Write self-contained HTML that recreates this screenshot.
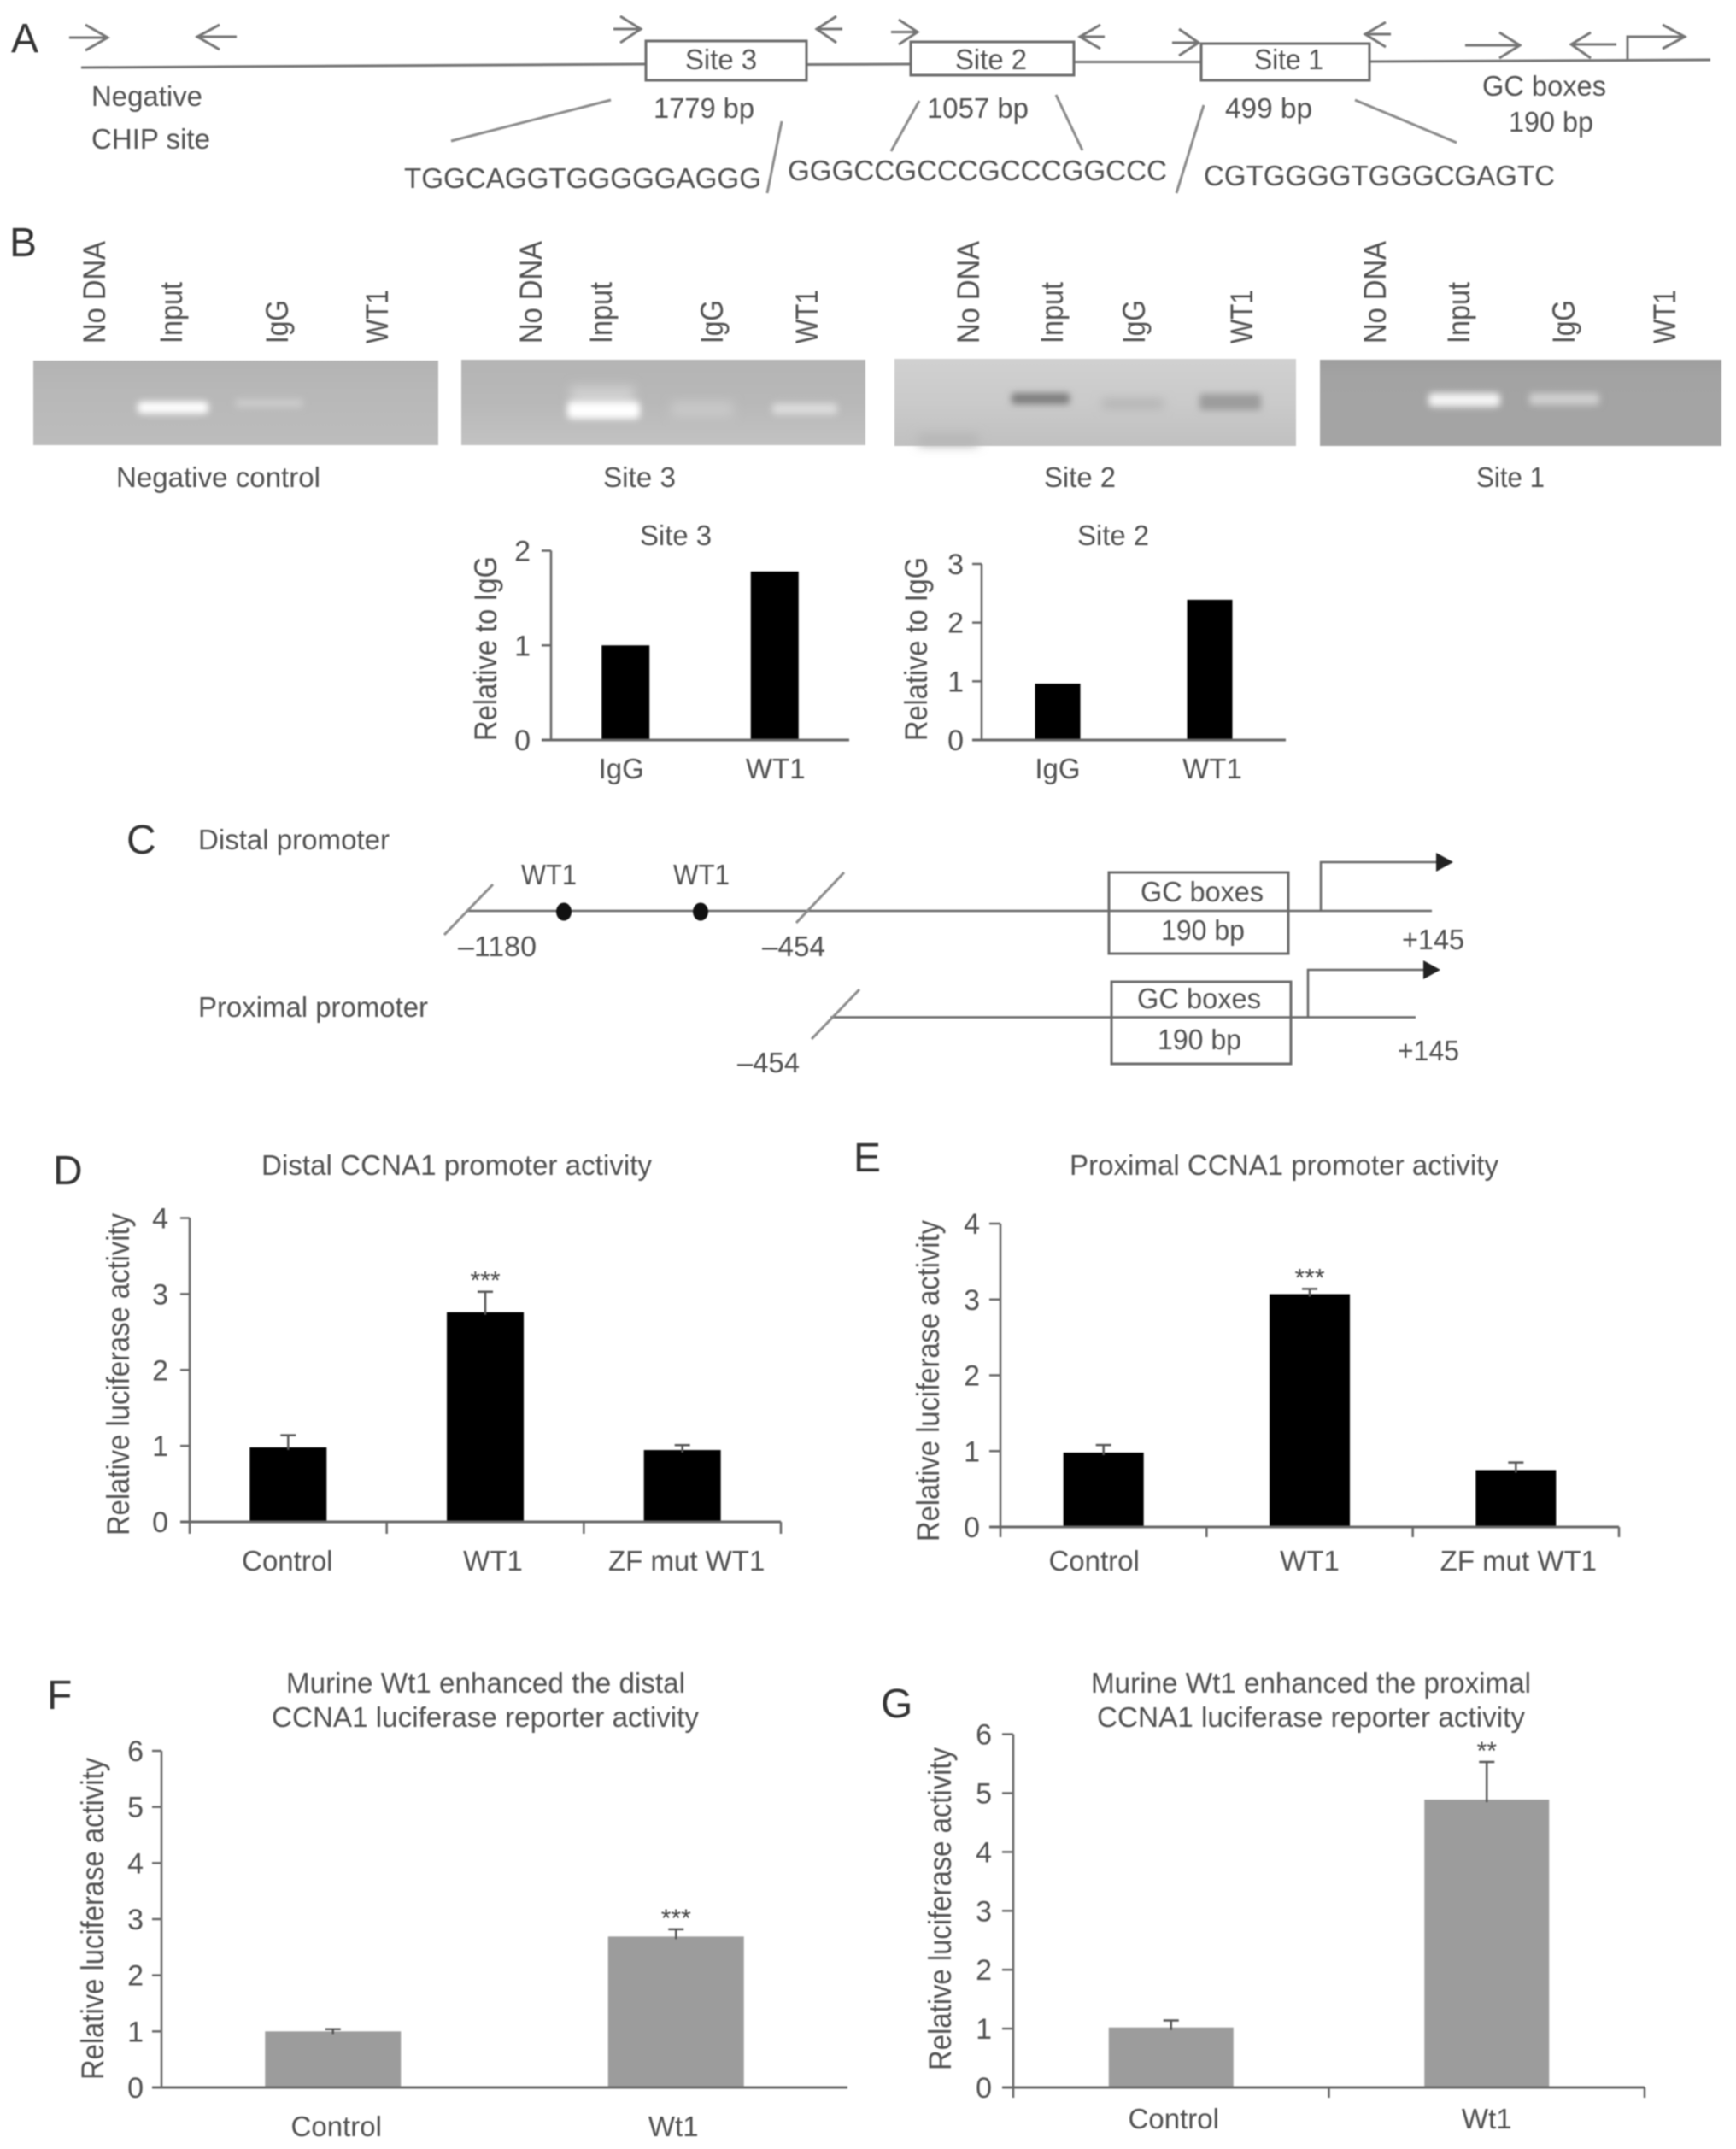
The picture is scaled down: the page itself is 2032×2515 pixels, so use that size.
<!DOCTYPE html>
<html lang="en">
<head>
<meta charset="utf-8">
<title>WT1 CCNA1 promoter figure</title>
<style>
html,body{margin:0;padding:0;background:#fff;}
#figure{display:block;width:2032px;height:2515px;filter:blur(0.7px);}
text{font-family:"Liberation Sans",sans-serif;font-size:33px;fill:#505050;}
text.rot{font-size:37px;}
.panel{font-size:48px;fill:#333;}
.ln{stroke:#747474;stroke-width:3;fill:none;}
.thin{stroke:#666;stroke-width:2.5;fill:none;}
.slash{stroke:#8a8a8a;stroke-width:3;fill:none;}
.box{stroke:#6a6a6a;stroke-width:3;fill:#fff;}
.boxo{stroke:#6a6a6a;stroke-width:3;fill:none;}
</style>
</head>
<body>
<svg id="figure" xmlns="http://www.w3.org/2000/svg" width="2032" height="2515" viewBox="0 0 2032 2515">
<defs>
<filter id="b6" x="-40%" y="-100%" width="180%" height="300%"><feGaussianBlur stdDeviation="6"/></filter>
<filter id="b4" x="-40%" y="-100%" width="180%" height="300%"><feGaussianBlur stdDeviation="4"/></filter>
<linearGradient id="gelNeg" x1="0" y1="0" x2="0" y2="1"><stop offset="0" stop-color="#b3b3b3"/><stop offset="0.3" stop-color="#b7b7b7"/><stop offset="1" stop-color="#bcbcbc"/></linearGradient>
<linearGradient id="gelS3" x1="0" y1="0" x2="0" y2="1"><stop offset="0" stop-color="#b4b4b4"/><stop offset="0.5" stop-color="#b8b8b8"/><stop offset="1" stop-color="#c2c2c2"/></linearGradient>
<linearGradient id="gelS2" x1="0" y1="0" x2="0" y2="1"><stop offset="0" stop-color="#d0d0d0"/><stop offset="0.5" stop-color="#cacaca"/><stop offset="1" stop-color="#c0c0c0"/></linearGradient>
<linearGradient id="gelS1" x1="0" y1="0" x2="0" y2="1"><stop offset="0" stop-color="#9e9e9e"/><stop offset="0.2" stop-color="#a3a3a3"/><stop offset="1" stop-color="#a4a4a4"/></linearGradient>
</defs>
<rect width="2032" height="2515" fill="#fff"/>

<!-- PANEL A -->
<g>
<text class="panel" x="13" y="61">A</text>
<path class="ln" d="M95 79 L756 75"/>
<path class="ln" d="M944 75.5 L1066 75"/>
<path class="ln" d="M1257 72.5 L1406 72.5"/>
<path class="ln" d="M1603 72 L2002 70"/>
<rect class="box" x="756" y="48" width="188" height="46"/>
<rect class="box" x="1066" y="49" width="191" height="39"/>
<rect class="box" x="1406" y="51" width="197" height="43"/>
<text x="802" y="81" textLength="84" lengthAdjust="spacingAndGlyphs">Site 3</text>
<text x="1118" y="81" textLength="84" lengthAdjust="spacingAndGlyphs">Site 2</text>
<text x="1468" y="81" textLength="81" lengthAdjust="spacingAndGlyphs">Site 1</text>
<path class="ln" d="M81 44 H126 M100 29 L126 44 L100 59"/>
<path class="ln" d="M277 43 H231 M257 29 L231 43 L257 58"/>
<path class="ln" d="M718 34 H750 M726 19 L750 34 L726 50"/>
<path class="ln" d="M986 34 H956 M979 19 L956 34 L979 50"/>
<path class="ln" d="M1043 37.5 H1074 M1052 23 L1074 37.5 L1052 52"/>
<path class="ln" d="M1293 43 H1264 M1288 29 L1264 43 L1288 57"/>
<path class="ln" d="M1372 50 H1403 M1380 34 L1403 50 L1380 65"/>
<path class="ln" d="M1628 40 H1598 M1622 26 L1598 40 L1622 55"/>
<path class="ln" d="M1715 53 H1779 M1755 38 L1779 53 L1755 68"/>
<path class="ln" d="M1892 52 H1839 M1862 38 L1839 52 L1862 68"/>
<path class="ln" d="M1905 70 V43 H1972 M1946 29 L1972 43 L1946 57"/>
<path class="slash" d="M528 165 L715 117"/>
<path class="slash" d="M915 142 L898 226"/>
<path class="slash" d="M1076 118 L1043 177"/>
<path class="slash" d="M1236 111 L1267 176"/>
<path class="slash" d="M1409 123 L1377 226"/>
<path class="slash" d="M1586 117 L1705 167"/>
<text x="107" y="124" textLength="130" lengthAdjust="spacingAndGlyphs">Negative</text>
<text x="107" y="174" textLength="139" lengthAdjust="spacingAndGlyphs">CHIP site</text>
<text x="765" y="138" textLength="118" lengthAdjust="spacingAndGlyphs">1779 bp</text>
<text x="1085" y="138" textLength="119" lengthAdjust="spacingAndGlyphs">1057 bp</text>
<text x="1434" y="138" textLength="102" lengthAdjust="spacingAndGlyphs">499 bp</text>
<text x="1735" y="112" textLength="145" lengthAdjust="spacingAndGlyphs">GC boxes</text>
<text x="1766" y="154" textLength="99" lengthAdjust="spacingAndGlyphs">190 bp</text>
<text x="473" y="220" textLength="418" lengthAdjust="spacingAndGlyphs">TGGCAGGTGGGGGAGGG</text>
<text x="922" y="211" textLength="444" lengthAdjust="spacingAndGlyphs">GGGCCGCCCGCCCGGCCC</text>
<text x="1409" y="217" textLength="411" lengthAdjust="spacingAndGlyphs">CGTGGGGTGGGCGAGTC</text>
</g>

<!-- PANEL B GELS -->
<g>
<text class="panel" x="11" y="300">B</text>

<text class="rot" transform="translate(123,402) rotate(-90)" textLength="120" lengthAdjust="spacingAndGlyphs">No DNA</text>
<text class="rot" transform="translate(213,402) rotate(-90)" textLength="72" lengthAdjust="spacingAndGlyphs">Input</text>
<text class="rot" transform="translate(337,402) rotate(-90)" textLength="51" lengthAdjust="spacingAndGlyphs">IgG</text>
<text class="rot" transform="translate(454,402) rotate(-90)" textLength="63" lengthAdjust="spacingAndGlyphs">WT1</text>
<text class="rot" transform="translate(634,402) rotate(-90)" textLength="120" lengthAdjust="spacingAndGlyphs">No DNA</text>
<text class="rot" transform="translate(716,402) rotate(-90)" textLength="72" lengthAdjust="spacingAndGlyphs">Input</text>
<text class="rot" transform="translate(846,402) rotate(-90)" textLength="51" lengthAdjust="spacingAndGlyphs">IgG</text>
<text class="rot" transform="translate(957,402) rotate(-90)" textLength="63" lengthAdjust="spacingAndGlyphs">WT1</text>
<text class="rot" transform="translate(1146,402) rotate(-90)" textLength="120" lengthAdjust="spacingAndGlyphs">No DNA</text>
<text class="rot" transform="translate(1244,402) rotate(-90)" textLength="72" lengthAdjust="spacingAndGlyphs">Input</text>
<text class="rot" transform="translate(1340,402) rotate(-90)" textLength="51" lengthAdjust="spacingAndGlyphs">IgG</text>
<text class="rot" transform="translate(1466,402) rotate(-90)" textLength="63" lengthAdjust="spacingAndGlyphs">WT1</text>
<text class="rot" transform="translate(1622,402) rotate(-90)" textLength="120" lengthAdjust="spacingAndGlyphs">No DNA</text>
<text class="rot" transform="translate(1720,402) rotate(-90)" textLength="72" lengthAdjust="spacingAndGlyphs">Input</text>
<text class="rot" transform="translate(1843,402) rotate(-90)" textLength="51" lengthAdjust="spacingAndGlyphs">IgG</text>
<text class="rot" transform="translate(1961,402) rotate(-90)" textLength="63" lengthAdjust="spacingAndGlyphs">WT1</text>

<g>
<rect x="39" y="422" width="474" height="99" fill="url(#gelNeg)"/>
<rect x="161" y="470" width="83" height="14" rx="5" fill="#fff" filter="url(#b4)"/>
<rect x="276" y="467" width="78" height="10" fill="#cbcbcb" filter="url(#b4)"/>
</g>
<g>
<rect x="540" y="421" width="473" height="100" fill="url(#gelS3)"/>
<rect x="668" y="452" width="74" height="22" fill="#cfcfcf" filter="url(#b6)"/>
<rect x="664" y="470" width="85" height="20" rx="5" fill="#fff" filter="url(#b4)"/>
<rect x="786" y="470" width="72" height="18" fill="#c8c8c8" filter="url(#b6)"/>
<rect x="904" y="472" width="76" height="13" rx="4" fill="#dcdcdc" filter="url(#b4)"/>
</g>
<g>
<rect x="1047" y="420" width="470" height="102" fill="url(#gelS2)"/>
<rect x="1075" y="508" width="70" height="14" fill="#b6b6b6" filter="url(#b6)"/>
<rect x="1184" y="460" width="68" height="13" rx="3" fill="#7e7e7e" filter="url(#b4)"/>
<rect x="1290" y="467" width="72" height="11" fill="#b2b2b2" filter="url(#b6)"/>
<rect x="1404" y="461" width="72" height="19" rx="3" fill="#9c9c9c" filter="url(#b4)"/>
</g>
<g>
<rect x="1545" y="421" width="470" height="101" fill="url(#gelS1)"/>
<rect x="1672" y="460" width="84" height="16" rx="5" fill="#f4f4f4" filter="url(#b4)"/>
<rect x="1790" y="460" width="82" height="14" rx="4" fill="#cfcfcf" filter="url(#b4)"/>
</g>
<text x="136" y="570" textLength="239" lengthAdjust="spacingAndGlyphs">Negative control</text>
<text x="706" y="570" textLength="85" lengthAdjust="spacingAndGlyphs">Site 3</text>
<text x="1222" y="570" textLength="84" lengthAdjust="spacingAndGlyphs">Site 2</text>
<text x="1728" y="570" textLength="80" lengthAdjust="spacingAndGlyphs">Site 1</text>

<text x="749" y="638" textLength="84" lengthAdjust="spacingAndGlyphs">Site 3</text>
<text x="1261" y="638" textLength="84" lengthAdjust="spacingAndGlyphs">Site 2</text>
<text class="rot" transform="translate(581,867) rotate(-90)" textLength="216" lengthAdjust="spacingAndGlyphs">Relative to IgG</text>
<text class="rot" transform="translate(1085,867) rotate(-90)" textLength="215" lengthAdjust="spacingAndGlyphs">Relative to IgG</text>
</g>

<!-- PANEL C -->
<g>
<text class="panel" x="148" y="999">C</text>
<text x="232" y="994" textLength="224" lengthAdjust="spacingAndGlyphs">Distal promoter</text>
<text x="232" y="1190" textLength="269" lengthAdjust="spacingAndGlyphs">Proximal promoter</text>
<path class="thin" d="M548 1066 H1676"/>
<path class="slash" d="M577 1035 L520 1094"/>
<path class="slash" d="M988 1021 L932 1080"/>
<ellipse cx="660" cy="1067" rx="9" ry="10.5" fill="#111"/>
<ellipse cx="820" cy="1067" rx="9" ry="10.5" fill="#111"/>
<text x="610" y="1035" textLength="65" lengthAdjust="spacingAndGlyphs">WT1</text>
<text x="788" y="1035" textLength="66" lengthAdjust="spacingAndGlyphs">WT1</text>
<text x="536" y="1119" textLength="92" lengthAdjust="spacingAndGlyphs">–1180</text>
<text x="892" y="1119" textLength="74" lengthAdjust="spacingAndGlyphs">–454</text>
<rect class="boxo" x="1298" y="1021" width="210" height="95"/>
<text x="1335" y="1055" textLength="144" lengthAdjust="spacingAndGlyphs">GC boxes</text>
<text x="1359" y="1100" textLength="98" lengthAdjust="spacingAndGlyphs">190 bp</text>
<path class="thin" d="M1546 1066 V1009 H1685"/>
<path d="M1681 998 L1701 1009 L1681 1020 Z" fill="#222"/>
<text x="1641" y="1111" textLength="73" lengthAdjust="spacingAndGlyphs">+145</text>
<path class="thin" d="M972 1190.5 H1657"/>
<path class="slash" d="M1006 1158 L950 1216"/>
<text x="863" y="1255" textLength="73" lengthAdjust="spacingAndGlyphs">–454</text>
<rect class="boxo" x="1301" y="1149" width="210" height="96"/>
<text x="1331" y="1180" textLength="145" lengthAdjust="spacingAndGlyphs">GC boxes</text>
<text x="1355" y="1228" textLength="98" lengthAdjust="spacingAndGlyphs">190 bp</text>
<path class="thin" d="M1531 1190 V1135 H1670"/>
<path d="M1666 1124 L1686 1135 L1666 1146 Z" fill="#222"/>
<text x="1636" y="1241" textLength="72" lengthAdjust="spacingAndGlyphs">+145</text>
</g>

<!-- PANEL D-G STATIC TEXT -->
<g>
<text class="panel" x="62" y="1386">D</text>
<text x="306" y="1375" textLength="457" lengthAdjust="spacingAndGlyphs">Distal CCNA1 promoter activity</text>
<text class="rot" transform="translate(151,1797) rotate(-90)" textLength="377" lengthAdjust="spacingAndGlyphs">Relative luciferase activity</text>
</g>
<g>
<text class="panel" x="999" y="1371">E</text>
<text x="1252" y="1375" textLength="502" lengthAdjust="spacingAndGlyphs">Proximal CCNA1 promoter activity</text>
<text class="rot" transform="translate(1099,1804) rotate(-90)" textLength="376" lengthAdjust="spacingAndGlyphs">Relative luciferase activity</text>
</g>
<g>
<text class="panel" x="55" y="2000">F</text>
<text x="335" y="1981" textLength="467" lengthAdjust="spacingAndGlyphs">Murine Wt1 enhanced the distal</text>
<text x="318" y="2021" textLength="500" lengthAdjust="spacingAndGlyphs">CCNA1 luciferase reporter activity</text>
<text class="rot" transform="translate(121,2434) rotate(-90)" textLength="377" lengthAdjust="spacingAndGlyphs">Relative luciferase activity</text>
</g>
<g>
<text class="panel" x="1031" y="2010">G</text>
<text x="1277" y="1981" textLength="515" lengthAdjust="spacingAndGlyphs">Murine Wt1 enhanced the proximal</text>
<text x="1284" y="2021" textLength="501" lengthAdjust="spacingAndGlyphs">CCNA1 luciferase reporter activity</text>
<text class="rot" transform="translate(1113,2423) rotate(-90)" textLength="378" lengthAdjust="spacingAndGlyphs">Relative luciferase activity</text>
</g>

<g id="charts"></g>
</svg>

<script>
// Chart data
const site3Categories = ['IgG', 'WT1'];
const site3Values = [1, 1.78];
const site3Errors = [0, 0];
const site3Stars = ['', ''];
const site3Ticks = [0, 1, 2];

const site2Categories = ['IgG', 'WT1'];
const site2Values = [0.96, 2.39];
const site2Errors = [0, 0];
const site2Stars = ['', ''];
const site2Ticks = [0, 1, 2, 3];

const distalCategories = ['Control', 'WT1', 'ZF mut WT1'];
const distalValues = [0.98, 2.76, 0.945];
const distalErrors = [0.16, 0.27, 0.065];
const distalStars = ['', '***', ''];
const distalTicks = [0, 1, 2, 3, 4];

const proximalCategories = ['Control', 'WT1', 'ZF mut WT1'];
const proximalValues = [0.98, 3.07, 0.75];
const proximalErrors = [0.10, 0.07, 0.10];
const proximalStars = ['', '***', ''];
const proximalTicks = [0, 1, 2, 3, 4];

const murineDistalCategories = ['Control', 'Wt1'];
const murineDistalValues = [1.0, 2.69];
const murineDistalErrors = [0.04, 0.13];
const murineDistalStars = ['', '***'];
const murineDistalTicks = [0, 1, 2, 3, 4, 5, 6];

const murineProximalCategories = ['Control', 'Wt1'];
const murineProximalValues = [1.02, 4.89];
const murineProximalErrors = [0.12, 0.64];
const murineProximalStars = ['', '**'];
const murineProximalTicks = [0, 1, 2, 3, 4, 5, 6];

const SVGNS = 'http://www.w3.org/2000/svg';
const chartsRoot = document.getElementById('charts');

function svgEl(parent, tag, props) {
  const el = document.createElementNS(SVGNS, tag);
  for (const key in props) el.setAttribute(key, props[key]);
  parent.appendChild(el);
  return el;
}

function drawChart(name, categories, values, errors, stars, ticks, layout) {
  const group = svgEl(chartsRoot, 'g', {});
  
  

  const yMax = ticks[ticks.length - 1];
  const band = (layout.axisEnd - layout.axisX) / categories.length;
  const xScale = function (i) { return layout.axisX + band * (i + 0.5); };
  const yScale = function (v) { return layout.yBase - (v / yMax) * (layout.yBase - layout.yTop); };

  // bars first, axes on top
  categories.forEach(function (category, i) {
    const cx = xScale(i);
    const top = yScale(values[i]);
    const bar = svgEl(group, 'rect', {
      x: cx - layout.barWidth / 2, y: top,
      width: layout.barWidth, height: layout.yBase - top, fill: layout.fill
    });
    
    

    if (errors[i] > 0) {
      const errTop = yScale(values[i] + errors[i]);
      const err = svgEl(group, 'path', {
        d: 'M' + cx + ' ' + (top + 3) + ' V' + errTop + ' M' + (cx - 9) + ' ' + errTop + ' H' + (cx + 9),
        stroke: '#555', 'stroke-width': 2.5, fill: 'none'
      });
      
      
    }

    if (stars[i]) {
      const star = svgEl(group, 'text', {
        x: cx, y: yScale(values[i] + errors[i]) - 3, 'text-anchor': 'middle', style: 'font-size:30px;fill:#444'
      });
      star.textContent = stars[i];
      
      
    }

    const nudge = layout.labelNudge[category] || 0;
    const label = svgEl(group, 'text', {
      x: cx + nudge, y: layout.labelBaseline, 'text-anchor': 'middle'
    });
    label.textContent = category;
    
    
  });

  const yAxis = svgEl(group, 'path', {
    d: 'M' + layout.axisX + ' ' + layout.yTop + ' V' + layout.yBase,
    stroke: '#666', 'stroke-width': 2.5, fill: 'none'
  });
  
  

  const xAxis = svgEl(group, 'path', {
    d: 'M' + layout.tickLeft + ' ' + layout.yBase + ' H' + layout.axisEnd,
    stroke: '#666', 'stroke-width': 3, fill: 'none'
  });
  
  

  ticks.forEach(function (t) {
    const y = yScale(t);
    const tick = svgEl(group, 'path', {
      d: 'M' + layout.tickLeft + ' ' + y + ' H' + layout.axisX,
      stroke: '#666', 'stroke-width': 2.5, fill: 'none'
    });
    
    

    const tickLabel = svgEl(group, 'text', {
      x: layout.tickLabelRight, y: y + 12, 'text-anchor': 'end', style: 'font-size:34px'
    });
    tickLabel.textContent = String(t);
    
    
  });

  if (layout.xTickDown) {
    for (let i = 0; i <= categories.length; i++) {
      const x = layout.axisX + band * i;
      const xTick = svgEl(group, 'path', {
        d: 'M' + x + ' ' + layout.yBase + ' V' + (layout.yBase + layout.xTickDown),
        stroke: '#666', 'stroke-width': 2.5, fill: 'none'
      });
      
      
    }
  }
}

drawChart('site-3', site3Categories, site3Values, site3Errors, site3Stars, site3Ticks, {
  axisX: 645, axisEnd: 994, yTop: 644.5, yBase: 866, barWidth: 56, fill: '#000',
  tickLeft: 634, tickLabelRight: 621, labelBaseline: 911, xTickDown: 0,
  labelNudge: { IgG: -5, WT1: 1 }
});
drawChart('site-2', site2Categories, site2Values, site2Errors, site2Stars, site2Ticks, {
  axisX: 1149, axisEnd: 1505, yTop: 660, yBase: 866, barWidth: 53, fill: '#000',
  tickLeft: 1138, tickLabelRight: 1128, labelBaseline: 911, xTickDown: 0,
  labelNudge: { IgG: 0, WT1: 3 }
});
drawChart('distal', distalCategories, distalValues, distalErrors, distalStars, distalTicks, {
  axisX: 222, axisEnd: 914, yTop: 1425.5, yBase: 1781, barWidth: 90, fill: '#000',
  tickLeft: 211, tickLabelRight: 197, labelBaseline: 1838, xTickDown: 14,
  labelNudge: { Control: -1, WT1: 9, 'ZF mut WT1': 5 }
});
drawChart('proximal', proximalCategories, proximalValues, proximalErrors, proximalStars, proximalTicks, {
  axisX: 1171, axisEnd: 1895, yTop: 1432, yBase: 1787, barWidth: 94, fill: '#000',
  tickLeft: 1158, tickLabelRight: 1147, labelBaseline: 1838, xTickDown: 12,
  labelNudge: { Control: -11, WT1: 0, 'ZF mut WT1': 3 }
});
drawChart('murine-distal', murineDistalCategories, murineDistalValues, murineDistalErrors, murineDistalStars, murineDistalTicks, {
  axisX: 189, axisEnd: 992, yTop: 2049, yBase: 2443, barWidth: 159, fill: '#9c9c9c',
  tickLeft: 178, tickLabelRight: 168, labelBaseline: 2500, xTickDown: 0,
  labelNudge: { Control: 4, Wt1: -3 }
});
drawChart('murine-proximal', murineProximalCategories, murineProximalValues, murineProximalErrors, murineProximalStars, murineProximalTicks, {
  axisX: 1186, axisEnd: 1925, yTop: 2029.6, yBase: 2443, barWidth: 146, fill: '#9c9c9c',
  tickLeft: 1173, tickLabelRight: 1161, labelBaseline: 2491, xTickDown: 12,
  labelNudge: { Control: 3, Wt1: 0 }
});
</script>
</body>
</html>
